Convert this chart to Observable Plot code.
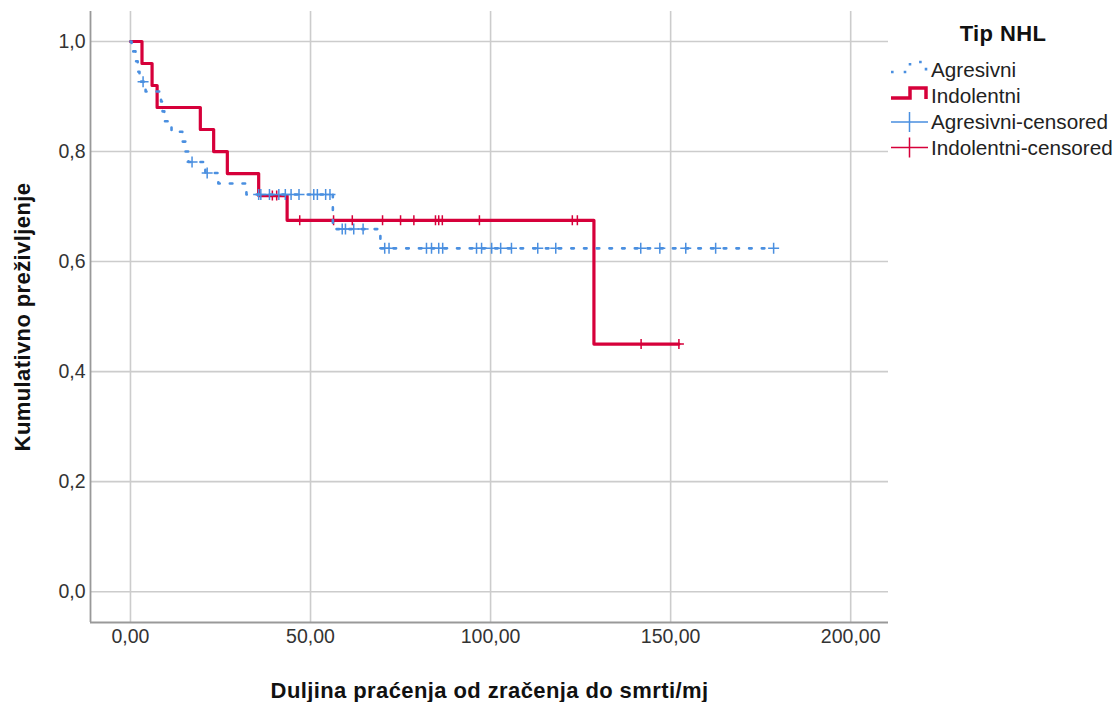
<!DOCTYPE html>
<html><head><meta charset="utf-8">
<script src="https://cdn.jsdelivr.net/npm/d3@7"></script>
<script src="https://cdn.jsdelivr.net/npm/@observablehq/plot@0.6"></script>
<style>
body{margin:0;background:#fff;}
#wrap{position:relative;width:1116px;height:702px;font-family:"Liberation Sans",Arial,sans-serif;}
#legend{position:absolute;left:0;top:0;pointer-events:none;}
</style></head><body><div id="wrap"></div>
<script>
// Series: Indolentni (event times and survival after each step)
const redT = [0, 3.2, 6.0, 7.4, 19.4, 23.1, 26.9, 35.6, 43.5, 128.7];
const redS = [1, 0.96, 0.92, 0.88, 0.84, 0.80, 0.76, 0.72, 0.675, 0.45];
const redEnd = 152.3;
const redCensor = [39.4, 40.6, 47, 56.4, 61.6, 70, 75, 78.7, 84.7, 85.6, 86.6, 96.9, 122.7, 124.1, 141.8, 152.3];

// Series: Agresivni
const blueT = [0, 0.3, 1.4, 2.0, 2.5, 4.2, 8.5, 8.9, 9.4, 11.4, 14.4, 15.3, 16.1, 20.8, 24.4, 32.2, 56.2, 69.4];
const blueS = [1, 0.982, 0.964, 0.945, 0.927, 0.909, 0.891, 0.873, 0.855, 0.836, 0.818, 0.80, 0.781, 0.761, 0.742, 0.722, 0.659, 0.624];
const blueEnd = 178.6;
const blueCensor = [3.5, 17.1, 21.3, 35.6, 36.2, 38.6, 41.2, 43.0, 44.6, 46.8, 50.9, 51.9, 54.2, 55.4,
  58.8, 59.7, 62.0, 64.6, 70.6, 71.8, 82.2, 83.6, 85.6, 86.7, 96.1, 97.5, 100.3, 102.8, 105.8, 113.1, 118.1,
  141.7, 147, 154.2, 162.5, 178.6];

// Axis ticks and labels
const xTicks = [0, 50, 100, 150, 200];
const yTicks = [0, 0.2, 0.4, 0.6, 0.8, 1.0];
const legendTitle = "Tip NHL";
const legendLabels = ["Agresivni", "Indolentni", "Agresivni-censored", "Indolentni-censored"];
const xLabel = "Duljina praćenja od zračenja do smrti/mj";
const yLabel = "Kumulativno preživljenje";

const RED = "#d6003a", BLUE = "#4a8fe0";

const stepAt = (T, S, t) => { let v = S[0]; for (let i = 0; i < T.length; i++) if (T[i] <= t) v = S[i]; return v; };
const redLine = redT.map((t, i) => ({t, s: redS[i]})).concat([{t: redEnd, s: redS[redS.length - 1]}]);
const blueLine = blueT.map((t, i) => ({t, s: blueS[i]})).concat([{t: blueEnd, s: blueS[blueS.length - 1]}]);
const redC = redCensor.map(t => ({t, s: stepAt(redT, redS, t)}));
const blueC = blueCensor.map(t => ({t, s: stepAt(blueT, blueS, t)}));

const plus = {draw(ctx, size) { const r = Math.sqrt(size / Math.PI); ctx.moveTo(-r, 0); ctx.lineTo(r, 0); ctx.moveTo(0, -r); ctx.lineTo(0, r); }};

const xDom = [-11.1, 210.5], yDom = [-0.056, 1.0545];
const chart = Plot.plot({
  width: 1116, height: 702,
  marginLeft: 90, marginRight: 228, marginTop: 11, marginBottom: 80,
  style: {fontFamily: '"Liberation Sans", Arial, sans-serif', fontSize: "19.5px", color: "#333", background: "white", overflow: "visible"},
  x: {domain: xDom},
  y: {domain: yDom},
  marks: [
    Plot.gridX(xTicks, {stroke: "#cccccc", strokeOpacity: 1, strokeWidth: 1.6}),
    Plot.gridY(yTicks, {stroke: "#cccccc", strokeOpacity: 1, strokeWidth: 1.6}),
    Plot.ruleX([xDom[0]], {stroke: "#999", strokeWidth: 1.8}),
    Plot.ruleY([yDom[0]], {stroke: "#999", strokeWidth: 1.8}),
    Plot.axisX(xTicks, {tickSize: 0, tickPadding: 7, tickFormat: d => d.toFixed(2).replace(".", ","), label: null, fill: "#333"}),
    Plot.axisY(yTicks, {tickSize: 0, tickPadding: 5, tickFormat: d => d.toFixed(1).replace(".", ","), label: null, fill: "#333"}),
    Plot.line(redLine, {x: "t", y: "s", curve: "step-after", stroke: RED, strokeWidth: 3.2}),
    Plot.dot(redC, {x: "t", y: "s", symbol: plus, r: 5, stroke: RED, strokeWidth: 1.5, fill: "none"}),
    Plot.line(blueLine, {x: "t", y: "s", curve: "step-after", stroke: BLUE, strokeWidth: 2.6, strokeDasharray: "2.6,10.1"}),
    Plot.dot(blueC, {x: "t", y: "s", symbol: plus, r: 5.5, stroke: BLUE, strokeWidth: 1.5, fill: "none"}),
    Plot.text([yLabel], {frameAnchor: "left", dx: -68, rotate: -90, textAnchor: "middle", lineAnchor: "middle", fontWeight: "bold", fontSize: 22, fill: "#111", style: "letter-spacing:0.4px"}),
    Plot.text([xLabel], {frameAnchor: "bottom", dy: 68, textAnchor: "middle", lineAnchor: "middle", fontWeight: "bold", fontSize: 22, fill: "#111"})
  ]
});
const wrap = document.getElementById("wrap");
wrap.appendChild(chart);
d3.select(chart).selectAll("text").filter(function() { return this.textContent === xLabel || this.textContent === yLabel; })
  .style("letter-spacing", "0.4px");

// Legend
const lg = d3.select(wrap).append("svg").attr("id", "legend").attr("width", 1116).attr("height", 702)
  .style("font-family", '"Liberation Sans", Arial, sans-serif');
lg.append("text").attr("x", 1003).attr("y", 41).attr("text-anchor", "middle").attr("font-weight", "bold")
  .attr("font-size", 22).attr("fill", "#111").style("letter-spacing", "0.4px").text(legendTitle);
const rowsY = [70, 96, 122, 147.5];
legendLabels.forEach((lab, i) => {
  lg.append("text").attr("x", 931).attr("y", rowsY[i]).attr("dy", "0.35em").attr("font-size", 20.7).attr("fill", "#222").text(lab);
});
const stepPath = y => `M891,${y + 2}H910V${y - 8}H926V${y + 3}`;
lg.append("path").attr("d", stepPath(rowsY[0])).attr("fill", "none").attr("stroke", BLUE).attr("stroke-width", 2.6).attr("stroke-dasharray", "2.6,10.1");
lg.append("path").attr("d", stepPath(rowsY[1])).attr("fill", "none").attr("stroke", RED).attr("stroke-width", 3.5);
[[rowsY[2], BLUE], [rowsY[3], RED]].forEach(([y, c]) => {
  lg.append("path").attr("d", `M891,${y}H928M909.5,${y - 10}V${y + 10}`).attr("fill", "none").attr("stroke", c).attr("stroke-width", 1.5);
});
</script></body></html>
